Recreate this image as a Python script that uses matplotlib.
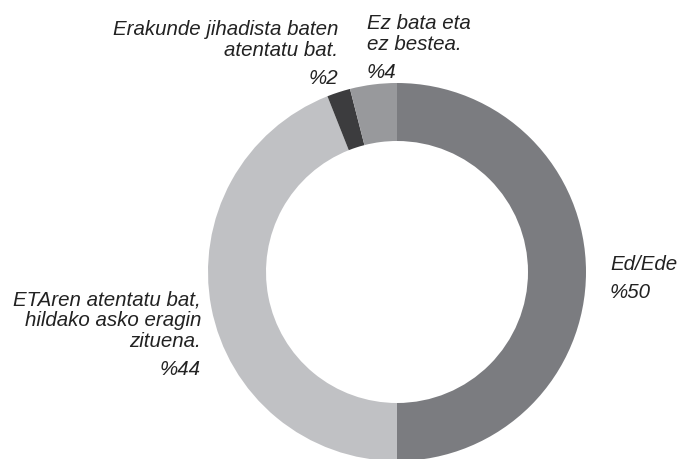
import matplotlib.pyplot as plt

# Data
labels = ["Ed/Ede", "ETAren atentatu bat,\nhildako asko eragin\nzituena.",
          "Erakunde jihadista baten\natentatu bat.", "Ez bata eta\nez bestea."]
values = [50, 44, 2, 4]
pct_labels = ["%50", "%44", "%2", "%4"]
colors = ["#7b7c80", "#c0c1c4", "#3c3c3e", "#98999c"]

W, H = 680, 460
fig = plt.figure(figsize=(W / 100, H / 100), dpi=100)
ax = fig.add_axes([0, 0, 1, 1])
ax.set_xlim(0, W)
ax.set_ylim(0, H)
ax.set_aspect("equal")
ax.axis("off")

cx, cy, R = 397, H - 273, 189
ax.pie(values, colors=colors, startangle=90, counterclock=False,
       center=(cx, cy), radius=R, frame=True,
       wedgeprops=dict(width=R - 131, linewidth=0))
ax.set_xlim(0, W)
ax.set_ylim(0, H)
ax.axis("off")

font = dict(family="Liberation Sans", style="italic", size=14.8, color="#222222")

# label positions in pixels (x, y from top), alignment
label_pos = [(610, 265, "left"), (201, 321, "right"), (338, 40, "right"), (367, 34, "left")]
pct_pos = [(610, 293, "left"), (201, 370, "right"), (338, 78, "right"), (367, 73, "left")]

for lab, (x, y, ha) in zip(labels, label_pos):
    ax.text(x, H - y, lab, ha=ha, va="center", multialignment=ha,
            linespacing=1.1, **font)
for p, (x, y, ha) in zip(pct_labels, pct_pos):
    ax.text(x, H - y, p, ha=ha, va="center", **font)

fig.savefig("out.png", dpi=100)
